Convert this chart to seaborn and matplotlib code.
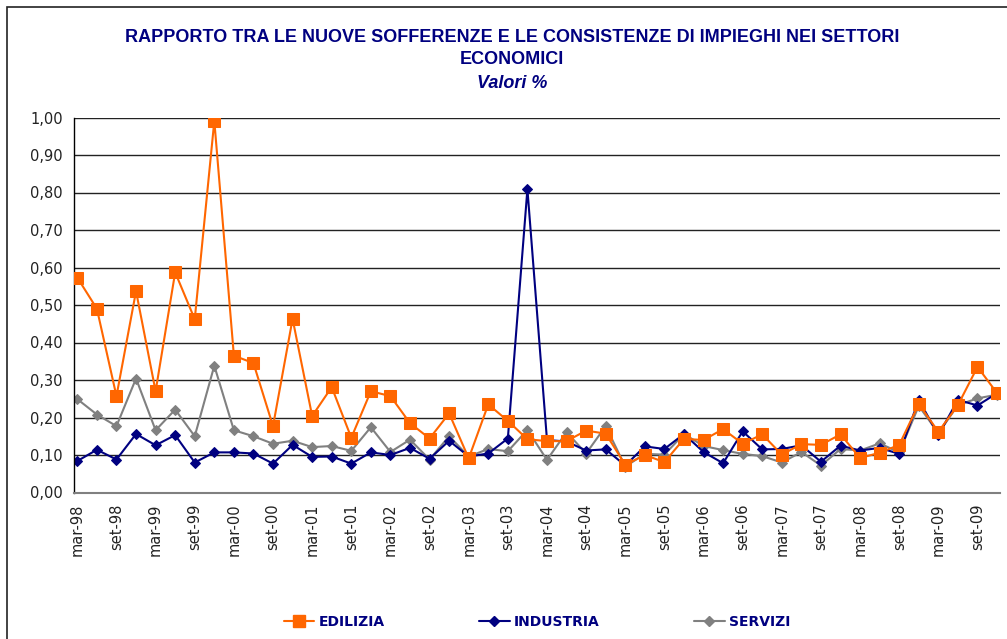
import matplotlib
matplotlib.use("Agg")
import matplotlib.pyplot as plt
from matplotlib import font_manager
from matplotlib.patches import Rectangle
from matplotlib.lines import Line2D
from matplotlib.ticker import FuncFormatter
import seaborn as sns
import pandas as pd
import numpy as np

quarters = []
for yy in range(98, 110):
    y2 = f"{yy % 100:02d}"
    quarters += [f"mar-{y2}", f"giu-{y2}", f"set-{y2}", f"dic-{y2}"]

edilizia = [0.573, 0.490, 0.257, 0.537, 0.270, 0.587, 0.462, 0.991, 0.365, 0.345,
            0.177, 0.463, 0.204, 0.281, 0.146, 0.270, 0.257, 0.185, 0.144, 0.211,
            0.091, 0.235, 0.191, 0.142, 0.137, 0.137, 0.165, 0.157, 0.074, 0.100,
            0.081, 0.143, 0.140, 0.169, 0.130, 0.155, 0.101, 0.129, 0.127, 0.155,
            0.092, 0.106, 0.127, 0.236, 0.162, 0.233, 0.335, 0.265]
industria = [0.084, 0.114, 0.088, 0.156, 0.126, 0.153, 0.080, 0.107, 0.107, 0.104,
             0.077, 0.127, 0.095, 0.096, 0.077, 0.107, 0.100, 0.119, 0.090, 0.138,
             0.096, 0.104, 0.144, 0.809, 0.140, 0.136, 0.112, 0.115, 0.072, 0.123,
             0.116, 0.156, 0.108, 0.078, 0.163, 0.115, 0.116, 0.126, 0.082, 0.125,
             0.112, 0.119, 0.103, 0.247, 0.153, 0.247, 0.232, 0.265]
servizi = [0.249, 0.208, 0.177, 0.304, 0.166, 0.221, 0.150, 0.338, 0.166, 0.150,
           0.130, 0.138, 0.121, 0.124, 0.111, 0.174, 0.108, 0.141, 0.088, 0.150,
           0.096, 0.116, 0.110, 0.167, 0.087, 0.161, 0.104, 0.177, 0.069, 0.103,
           0.101, 0.156, 0.124, 0.113, 0.103, 0.097, 0.080, 0.108, 0.072, 0.116,
           0.112, 0.131, 0.107, 0.231, 0.158, 0.233, 0.251, 0.261]

series_names = ["EDILIZIA", "INDUSTRIA", "SERVIZI"]
colors = {"EDILIZIA": "#FF6600", "INDUSTRIA": "#000080", "SERVIZI": "#808080"}
markers = {"EDILIZIA": "s", "INDUSTRIA": "D", "SERVIZI": "D"}
msizes = {"EDILIZIA": 8, "INDUSTRIA": 5, "SERVIZI": 5}

available = {f.name for f in font_manager.fontManager.ttflist}
def pick(*names):
    for n in names:
        if n in available:
            return n
    return "DejaVu Sans"

sns.set_theme(style="white")
plt.rcParams['font.family'] = ['DejaVu Sans']
title_font = pick("Liberation Sans", "Arimo", "DejaVu Sans")

W, H = 1007, 639
fig = plt.figure(figsize=(W / 100, H / 100), dpi=100)
fig.patch.set_facecolor("white")
ax = fig.add_axes([74 / W, 1 - 492.5 / H, (1000 - 74) / W, (492.5 - 117.5) / H])

x = np.arange(len(quarters))
df = pd.DataFrame({"x": x, "EDILIZIA": edilizia, "INDUSTRIA": industria, "SERVIZI": servizi})
long = df.melt(id_vars="x", var_name="serie", value_name="valore")

for name in ["SERVIZI", "INDUSTRIA", "EDILIZIA"]:
    sub = long[long["serie"] == name]
    sns.lineplot(data=sub, x="x", y="valore", ax=ax, color=colors[name],
                 marker=markers[name], markersize=msizes[name],
                 markeredgecolor=colors[name], linewidth=1.5, label=name,
                 legend=False, zorder=3 if name == "EDILIZIA" else 2)

ax.set_xlim(-0.17, len(quarters) - 1 + 0.15)
ax.set_ylim(0, 1.0)
ax.set_yticks(np.arange(0, 1.01, 0.1))
ax.yaxis.set_major_formatter(FuncFormatter(lambda v, p: f"{v:.2f}".replace(".", ",")))
ax.set_xticks(x[::2])
ax.set_xticklabels(quarters[::2], rotation=90)
ax.set_xlabel("")
ax.set_ylabel("")
ax.grid(axis="y", color="#222222", linewidth=1.0)
ax.grid(axis="x", visible=False)
ax.set_axisbelow(True)
for s in ["top", "right"]:
    ax.spines[s].set_visible(False)
ax.spines["left"].set_color("#000000")
ax.spines["left"].set_linewidth(1.0)
ax.spines["bottom"].set_color("#808080")
ax.spines["bottom"].set_linewidth(1.5)
ax.tick_params(axis="both", which="major", direction="out", length=5, width=1,
               labelsize=10.5, colors="#222222", pad=3)

# outer frame
fig.patches.append(Rectangle((7 / W, -0.1), 1.2, 1 - 7 / H + 0.1, transform=fig.transFigure,
                             fill=False, edgecolor="#222222", linewidth=1.2))

navy = "#000080"
fig.text(512 / W, 1 - 37 / H, "RAPPORTO TRA LE NUOVE SOFFERENZE E LE CONSISTENZE DI IMPIEGHI NEI SETTORI",
         ha="center", va="center", color=navy, fontsize=13, fontweight="bold", family=title_font)
fig.text(512 / W, 1 - 59 / H, "ECONOMICI", ha="center", va="center", color=navy,
         fontsize=13, fontweight="bold", family=title_font)
fig.text(512 / W, 1 - 83 / H, "Valori %", ha="center", va="center", color=navy,
         fontsize=13, fontweight="bold", style="italic", family=title_font)

handles = [Line2D([], [], color=colors[n], marker=markers[n],
                  markersize=9 if n == "EDILIZIA" else 5, linewidth=1.5) for n in series_names]
leg = fig.legend(handles, series_names, loc="center", bbox_to_anchor=(537 / W, 1 - 621.5 / H),
                 ncol=3, frameon=False, handlelength=2.2, handletextpad=0.3, columnspacing=6.8,
                 prop={"weight": "bold", "size": 10})
for t in leg.get_texts():
    t.set_color(navy)

fig.savefig("out.png", dpi=100, facecolor="white")
